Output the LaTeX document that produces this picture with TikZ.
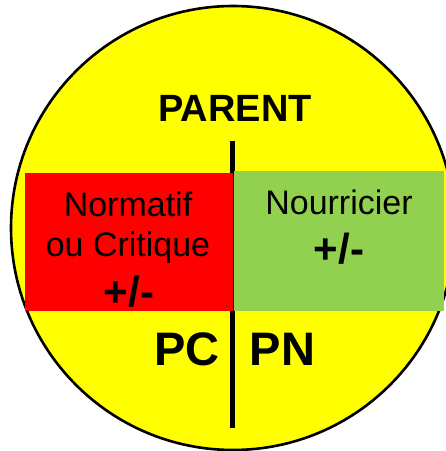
\documentclass[tikz,border=0pt]{standalone}
\usepackage{fontspec}
\setmainfont{Liberation Sans}
\definecolor{discyellow}{HTML}{FFFF00}
\definecolor{critred}{HTML}{FF0000}
\definecolor{nourgreen}{HTML}{92D050}
\begin{document}
\begin{tikzpicture}[x=1pt,y=1pt,
  label/.style={inner sep=0pt, anchor=base, text=black},
  plain/.style={label, font=\fontsize{34}{34}\selectfont},
  heavy/.style={label, font=\fontsize{#1}{#1}\selectfont\bfseries},
  sign/.style={inner sep=0pt, anchor=center, font=\fontsize{42}{42}\selectfont\bfseries}]
  \useasboundingbox (0,0) rectangle (446,451);
  % disc
  \fill[discyellow] (233,223) circle (222);
  \draw[line width=2.6pt] (233,223) circle (222);
  % dividing line
  \coordinate (ltop) at (232.5,310);
  \coordinate (lbot) at (232.5,23);
  \draw[line width=5pt] (ltop) -- (lbot);
  % the two halves
  \fill[critred] (25,140) rectangle (233,278);
  \fill[nourgreen] (234,140) rectangle (444,280);
  % texts
  \node[heavy=38] (parent) at (235,329) {PARENT};
  \node[plain] (norm) at (128,234) {Normatif};
  \node[plain] (crit) at (128,194) {ou Critique};
  \node[sign] (pmred) at (129,159) {+/-};
  \node[plain] (nour) at (339,236) {Nourricier};
  \node[sign] (pmgreen) at (339,202) {+/-};
  \node[heavy=47] (pc) at (187,85) {PC};
  \node[heavy=47] (pn) at (282.5,85) {PN};
\end{tikzpicture}
\end{document}
